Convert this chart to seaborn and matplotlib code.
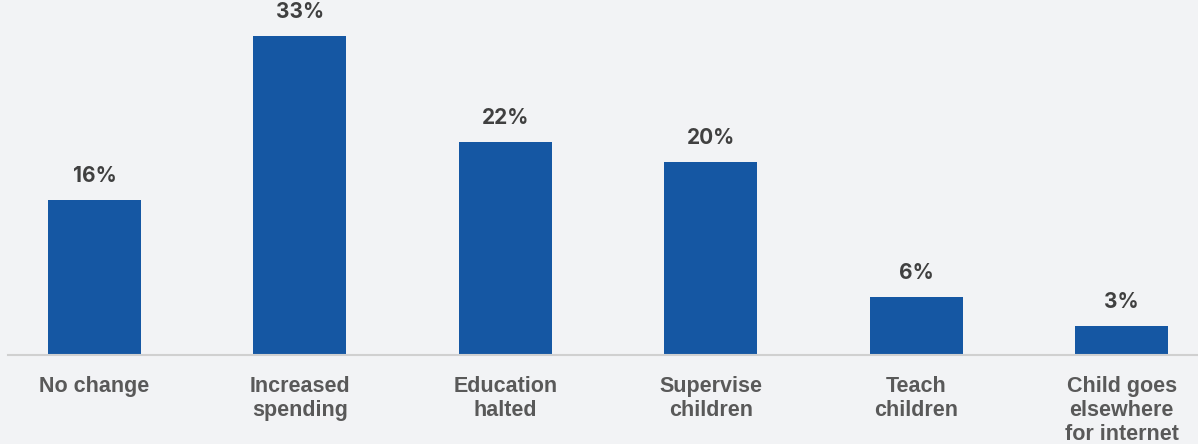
#!/usr/bin/env python3
import pandas as pd
import numpy as np
import matplotlib
matplotlib.use("Agg")
import matplotlib.pyplot as plt
import seaborn as sns

categories = ["No change", "Increased\nspending", "Education\nhalted",
              "Supervise\nchildren", "Teach\nchildren", "Child goes\nelsewhere\nfor internet"]
values = [16, 33, 22, 20, 6, 3]

bg = "#F2F3F5"
sns.set_style("white")
plt.rcParams['font.family'] = ['Liberation Sans', 'DejaVu Sans']

df = pd.DataFrame({'cat': categories, 'val': values})

fig = plt.figure(figsize=(11.98, 4.44), dpi=100, facecolor=bg)
ax = fig.add_axes([8/1198, 89/444, 1190/1198, 348/444])
ax.set_facecolor(bg)

sns.barplot(data=df, x='cat', y='val', color="#1557A3", saturation=1,
            width=0.453, linewidth=0, ax=ax)

ax.set_xlim(-0.421, 5.372)
ax.set_ylim(0, 36)
for s in ['top', 'right', 'left']:
    ax.spines[s].set_visible(False)
ax.spines['bottom'].set_color('#D0D0D0')
ax.spines['bottom'].set_linewidth(1.5)
ax.set_yticks([])
ax.set_xlabel('')
ax.set_ylabel('')
ax.tick_params(axis='x', length=0, pad=15)
for lab in ax.get_xticklabels():
    lab.set_fontsize(15.5)
    lab.set_fontweight('bold')
    lab.set_color('#595959')
    lab.set_verticalalignment('top')
    lab.set_linespacing(1.2)

ax.bar_label(ax.containers[0], labels=[f"{v}%" for v in values], padding=10,
             fontsize=15, fontweight='bold', color='#404040', family=['Inter', 'DejaVu Sans'])

plt.savefig('out.png', dpi=100, facecolor=bg)
